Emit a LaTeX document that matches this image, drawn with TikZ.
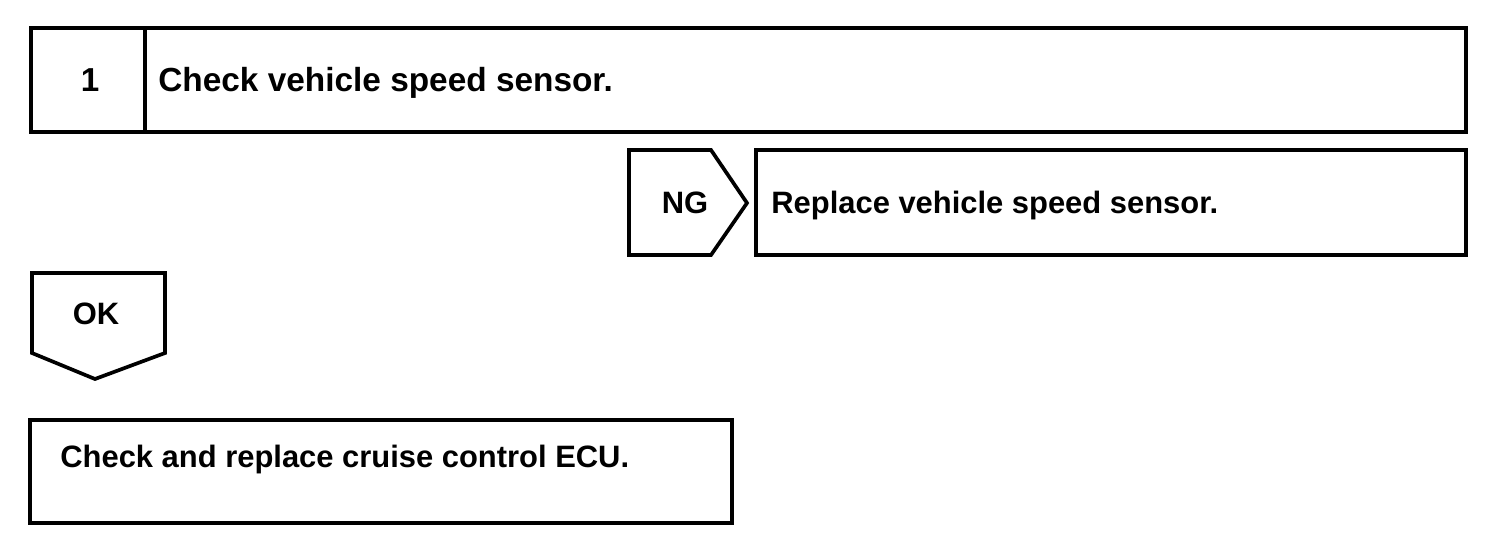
\documentclass[tikz,border=0pt]{standalone}
\usepackage{fontspec}
\setmainfont{Liberation Sans}
\begin{document}
\begin{tikzpicture}[x=0.02cm,y=-0.02cm,
  frame/.style={draw=black,line width=2.1pt,line join=miter},
  lbl/.style={inner sep=0pt,anchor=base west,font=\fontsize{17.6}{22}\selectfont\bfseries},
  clbl/.style={inner sep=0pt,anchor=base,font=\fontsize{17.6}{22}\selectfont\bfseries}]
\useasboundingbox[fill=white] (0,0) rectangle (1504,542);
% step 1 box
\draw[frame] (31,28) rectangle (1466,132);
\draw[frame] (145,28) -- (145,132);
\node[clbl,font=\fontsize{18.9}{22}\selectfont\bfseries] (n1) at (90,91) {1};
\node[lbl,font=\fontsize{19}{22}\selectfont\bfseries] (t1) at (158,91) {Check vehicle speed sensor.};
% NG arrow
\draw[frame] (629,150) -- (711,150) -- (747,203) -- (711,255) -- (629,255) -- cycle;
\node[clbl] (ng) at (685,213) {NG};
\draw[frame] (756,150) rectangle (1466,255);
\node[lbl] (t2) at (771,213) {Replace vehicle speed sensor.};
% OK arrow
\draw[frame] (32,273) -- (165,273) -- (165,353) -- (95,379) -- (32,353) -- cycle;
\node[clbl] (ok) at (96,324) {OK};
% final box
\draw[frame] (30,420) rectangle (732,523);
\node[lbl] (t3) at (60,467) {Check and replace cruise control ECU.};
\end{tikzpicture}
\end{document}
